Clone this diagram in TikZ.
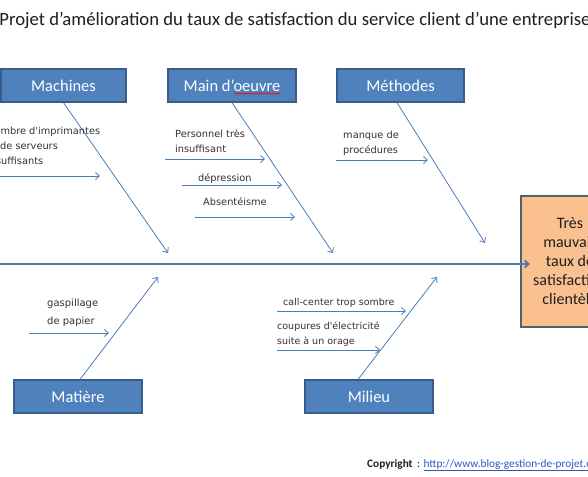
\documentclass[tikz,border=0pt]{standalone}
\usepackage{fontspec}
\setmainfont{Carlito}
\newfontfamily\smallfnt{DejaVu Sans}
\usetikzlibrary{arrows.meta,decorations.pathmorphing,calc}
\definecolor{boxblue}{HTML}{4F81BD}
\definecolor{boxborder}{HTML}{385D8A}
\definecolor{boneblue}{HTML}{4A7EBB}
\definecolor{spineblue}{HTML}{4F79A8}
\definecolor{orangefill}{HTML}{FAC090}
\definecolor{orangeborder}{HTML}{56606B}
\definecolor{labeltext}{HTML}{3A2D3A}
\definecolor{titletext}{HTML}{1F1F1F}
\definecolor{urlblue}{HTML}{2F55C8}
\begin{document}
\begin{tikzpicture}[x=1pt,y=-1pt,
  catbox/.style={draw=boxborder, line width=1.3pt, fill=boxblue, text=white,
    font=\fontsize{16.5}{19}\selectfont, minimum height=33pt, inner sep=0pt},
  effectbox/.style={draw=orangeborder, line width=1.3pt, fill=orangefill, text=titletext,
    font=\fontsize{16}{19}\selectfont, align=center, minimum width=98pt, minimum height=131pt, inner sep=0pt},
  bone/.style={draw=boneblue, line width=0.8pt, -{Straight Barb[length=4pt,width=7pt]}},
  spine/.style={draw=spineblue, line width=1.8pt, -{Straight Barb[length=4pt,width=7pt]}},
  causetxt/.style={font=\smallfnt\fontsize{9.8}{15}\selectfont, text=labeltext, align=left, inner sep=0pt, anchor=north west},
  squiggle/.style={draw=red, line width=0.5pt, decorate, decoration={snake, amplitude=0.7pt, segment length=2.5pt}}
]
\useasboundingbox (0,0) rectangle (588,476);
\fill[white] (0,0) rectangle (588,476);
\clip (0,0) rectangle (588,476);

% title
\node[font=\fontsize{18.7}{22}\selectfont, text=titletext, anchor=base, inner sep=0pt] (title) at (295,26)
  {Projet d’amélioration du taux de satisfaction du service client d’une entreprise};

% category boxes
\node[catbox, minimum width=125pt] (mach) at (63.5,85.5) {Machines};
\node[catbox, minimum width=128pt] (moe) at (232,85.5) {Main d'oeuvre};
\node[catbox, minimum width=127pt] (meth) at (400.5,85.5) {Méthodes};
\node[catbox, minimum width=128pt] (mat) at (78,396.5) {Matière};
\node[catbox, minimum width=128pt] (mil) at (369,396.5) {Milieu};
\draw[squiggle] ($(moe.center)+(2,8)$) -- ($(moe.center)+(49,8)$);

% effect box
\node[effectbox] (eff) at (570,261.5) {Très\\mauvais\\taux de\\satisfaction\\clientèle};

% spine
\coordinate (spL) at (0,264);
\coordinate (spR) at (530,264);
\draw[spine] (spL) -- (spR);

% main bones
\coordinate (machE) at (168,253);
\coordinate (moeE) at (333,253);
\coordinate (methE) at (485,243);
\coordinate (matE) at (158,277);
\coordinate (milE) at (437,277);
\draw[bone] (mach.south) -- (machE);
\draw[bone] (moe.south) -- (moeE);
\draw[bone] ($(meth.south)+(-3.5,0)$) -- (methE);
\draw[bone] ($(mat.north)+(2,0)$) -- (matE);
\draw[bone] ($(mil.north)+(-11,0)$) -- (milE);

% cause texts
\node[causetxt] (t1) at (-13,127) {Nombre d'imprimantes\\et de serveurs\\insuffisants};
\node[causetxt] (t2) at (175,129) {Personnel très\\insuffisant};
\node[causetxt] (t3) at (198,173) {dépression};
\node[causetxt] (t4) at (203,197) {Absentéisme};
\node[causetxt] (t5) at (343,131) {manque de\\procédures};
\node[causetxt, font=\smallfnt\fontsize{10}{18}\selectfont] (t6) at (47,299) {gaspillage\\de papier};
\node[causetxt, font=\smallfnt\fontsize{9.5}{15}\selectfont] (t7) at (283,298) {call-center trop sombre};
\node[causetxt, font=\smallfnt\fontsize{9.5}{15}\selectfont] (t8) at (277,322) {coupures d'électricité\\suite à un orage};

% sub arrows
\coordinate (a1s) at (-2,176);  \coordinate (a1e) at (100,176);
\coordinate (a2s) at (165,159); \coordinate (a2e) at (265,159);
\coordinate (a3s) at (182,185); \coordinate (a3e) at (282,185);
\coordinate (a4s) at (195,217); \coordinate (a4e) at (295,217);
\coordinate (a5s) at (336,160); \coordinate (a5e) at (428,160);
\coordinate (a6s) at (29,333);  \coordinate (a6e) at (109,333);
\coordinate (a7s) at (277,311); \coordinate (a7e) at (406,311);
\coordinate (a8s) at (277,350); \coordinate (a8e) at (380,350);
\foreach \s/\e in {a1s/a1e,a2s/a2e,a3s/a3e,a4s/a4e,a5s/a5e,a6s/a6e,a7s/a7e,a8s/a8e}
  \draw[bone] (\s) -- (\e);

% copyright
\node[anchor=base west, inner sep=0pt, font=\fontsize{11.3}{13}\selectfont, text=titletext] (copy) at (367,467)
  {\textbf{Copyright}\, : \textcolor{urlblue}{\underline{http://www.blog-gestion-de-projet.com}}};
\end{tikzpicture}
\end{document}
